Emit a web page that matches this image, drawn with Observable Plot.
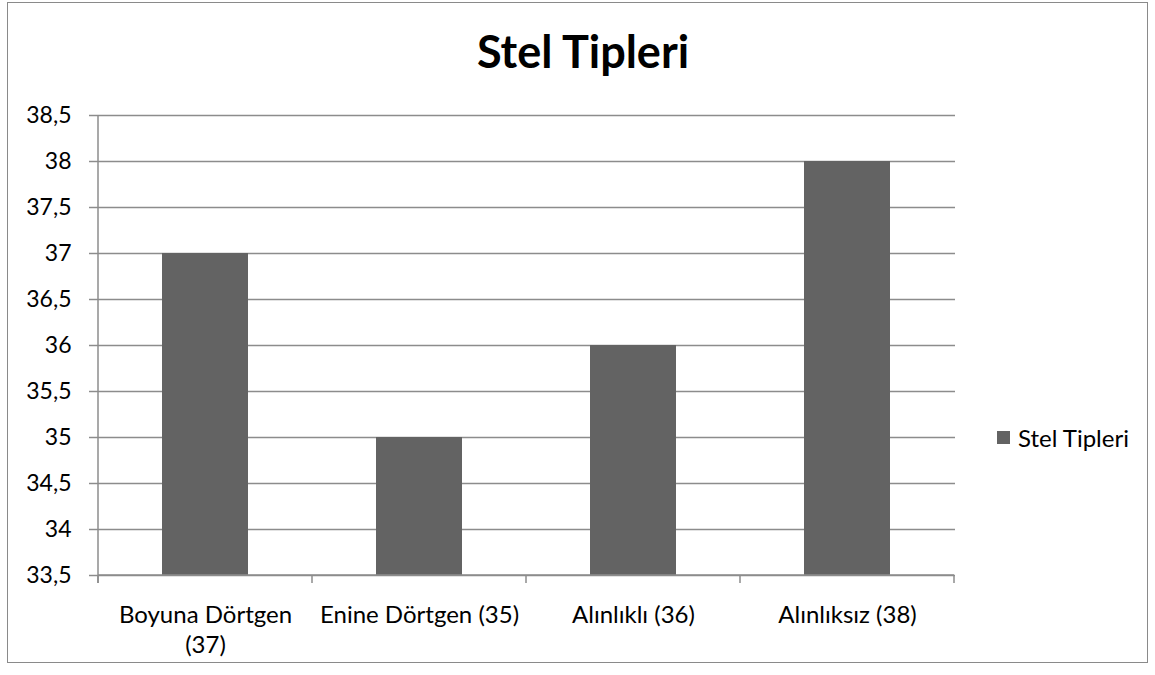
<!DOCTYPE html>
<html>
<head>
<meta charset="utf-8">
<script src="https://cdn.jsdelivr.net/npm/d3@7"></script>
<script src="https://cdn.jsdelivr.net/npm/@observablehq/plot@0.6"></script>
<style>
  html, body { margin: 0; padding: 0; background: #fff; }
  body { width: 1155px; height: 675px; position: relative; overflow: hidden; font-family: Lato, "Noto Sans", sans-serif; }
  #frame { position: absolute; left: 7px; top: 2px; width: 1141px; height: 661px; box-sizing: border-box; border: 1.5px solid #8a8a8a; }
  #title { position: absolute; left: 0; width: 1166px; top: 21px; text-align: center; font-size: 45px; font-weight: bold; color: #000; line-height: 60px; }
  #chart { position: absolute; left: 0; top: 0; }
  #legend { position: absolute; left: 997px; top: 420px; display: flex; align-items: center; font-size: 24px; color: #000; height: 34px; }
  #legend .sw { width: 13px; height: 13px; margin-right: 8px; }
</style>
</head>
<body>
<div id="frame"></div>
<div id="title">Stel Tipleri</div>
<div id="chart"></div>
<div id="legend"></div>
<script>
const seriesName = "Stel Tipleri";
const categories = ["Boyuna Dörtgen (37)", "Enine Dörtgen (35)", "Alınlıklı (36)", "Alınlıksız (38)"];
const tickLabels = ["Boyuna Dörtgen\n(37)", "Enine Dörtgen (35)", "Alınlıklı (36)", "Alınlıksız (38)"];
const values = [37, 35, 36, 38];
const yTicks = [33.5, 34, 34.5, 35, 35.5, 36, 36.5, 37, 37.5, 38, 38.5];
const baseline = 33.5;
const barColor = "#636363";
const lineColor = "#8c8c8c";

const data = categories.map((c, i) => ({cat: c, value: values[i]}));
const labelOf = new Map(categories.map((c, i) => [c, tickLabels[i]]));

// axis line at left + tick marks at category boundaries
function boundaryTicks(index, scales, vals, dims) {
  const x = scales.x, y = scales.y;
  const bw = typeof x.bandwidth === "function" ? x.bandwidth() : x.bandwidth;
  const step = x(categories[1]) - x(categories[0]);
  const gap = (step - bw) / 2;
  const xs = categories.map(c => x(c) - gap);
  xs.push(x(categories[categories.length - 1]) + bw + gap);
  const y0 = y(baseline), yTop = y(yTicks[yTicks.length - 1]);
  const g = d3.create("svg:g").attr("stroke", lineColor).attr("stroke-width", 1.5);
  g.append("line").attr("x1", xs[0]).attr("x2", xs[0]).attr("y1", yTop).attr("y2", y0 + 8);
  g.append("line").attr("x1", xs[0]).attr("x2", xs[xs.length - 1]).attr("y1", y0).attr("y2", y0);
  for (const v of xs) g.append("line").attr("x1", v).attr("x2", v).attr("y1", y0).attr("y2", y0 + 8);
  return g.node();
}

const plot = Plot.plot({
  width: 1155,
  height: 675,
  marginLeft: 97,
  marginRight: 200,
  marginTop: 115,
  marginBottom: 100,
  style: {background: "transparent", color: "#000", fontFamily: "Lato, 'Noto Sans', sans-serif", overflow: "visible"},
  x: {domain: categories, paddingInner: 0.6, paddingOuter: 0.3, label: null},
  y: {domain: [33.5, 38.5], label: null},
  marks: [
    Plot.gridY(yTicks, {stroke: lineColor, strokeOpacity: 1, strokeWidth: 1.5}),
    Plot.barY(data, {x: "cat", y1: baseline, y2: "value", fill: barColor}),
    Plot.axisY({ticks: yTicks, tickSize: 8, tickPadding: 18, stroke: lineColor, strokeWidth: 1.5, strokeOpacity: 1,
      tickFormat: d => String(d).replace(".", ","), fontSize: 23, fill: "#000"}),
    Plot.axisX({tickSize: 0, tickPadding: 26, fontSize: 24, fill: "#000", lineHeight: 1.25,
      tickFormat: d => labelOf.get(d)}),
    boundaryTicks
  ]
});
document.getElementById("chart").appendChild(plot);

const leg = document.getElementById("legend");
const sw = document.createElement("div");
sw.className = "sw";
sw.style.background = barColor;
leg.appendChild(sw);
const lt = document.createElement("span");
lt.textContent = seriesName;
leg.appendChild(lt);
</script>
</body>
</html>
